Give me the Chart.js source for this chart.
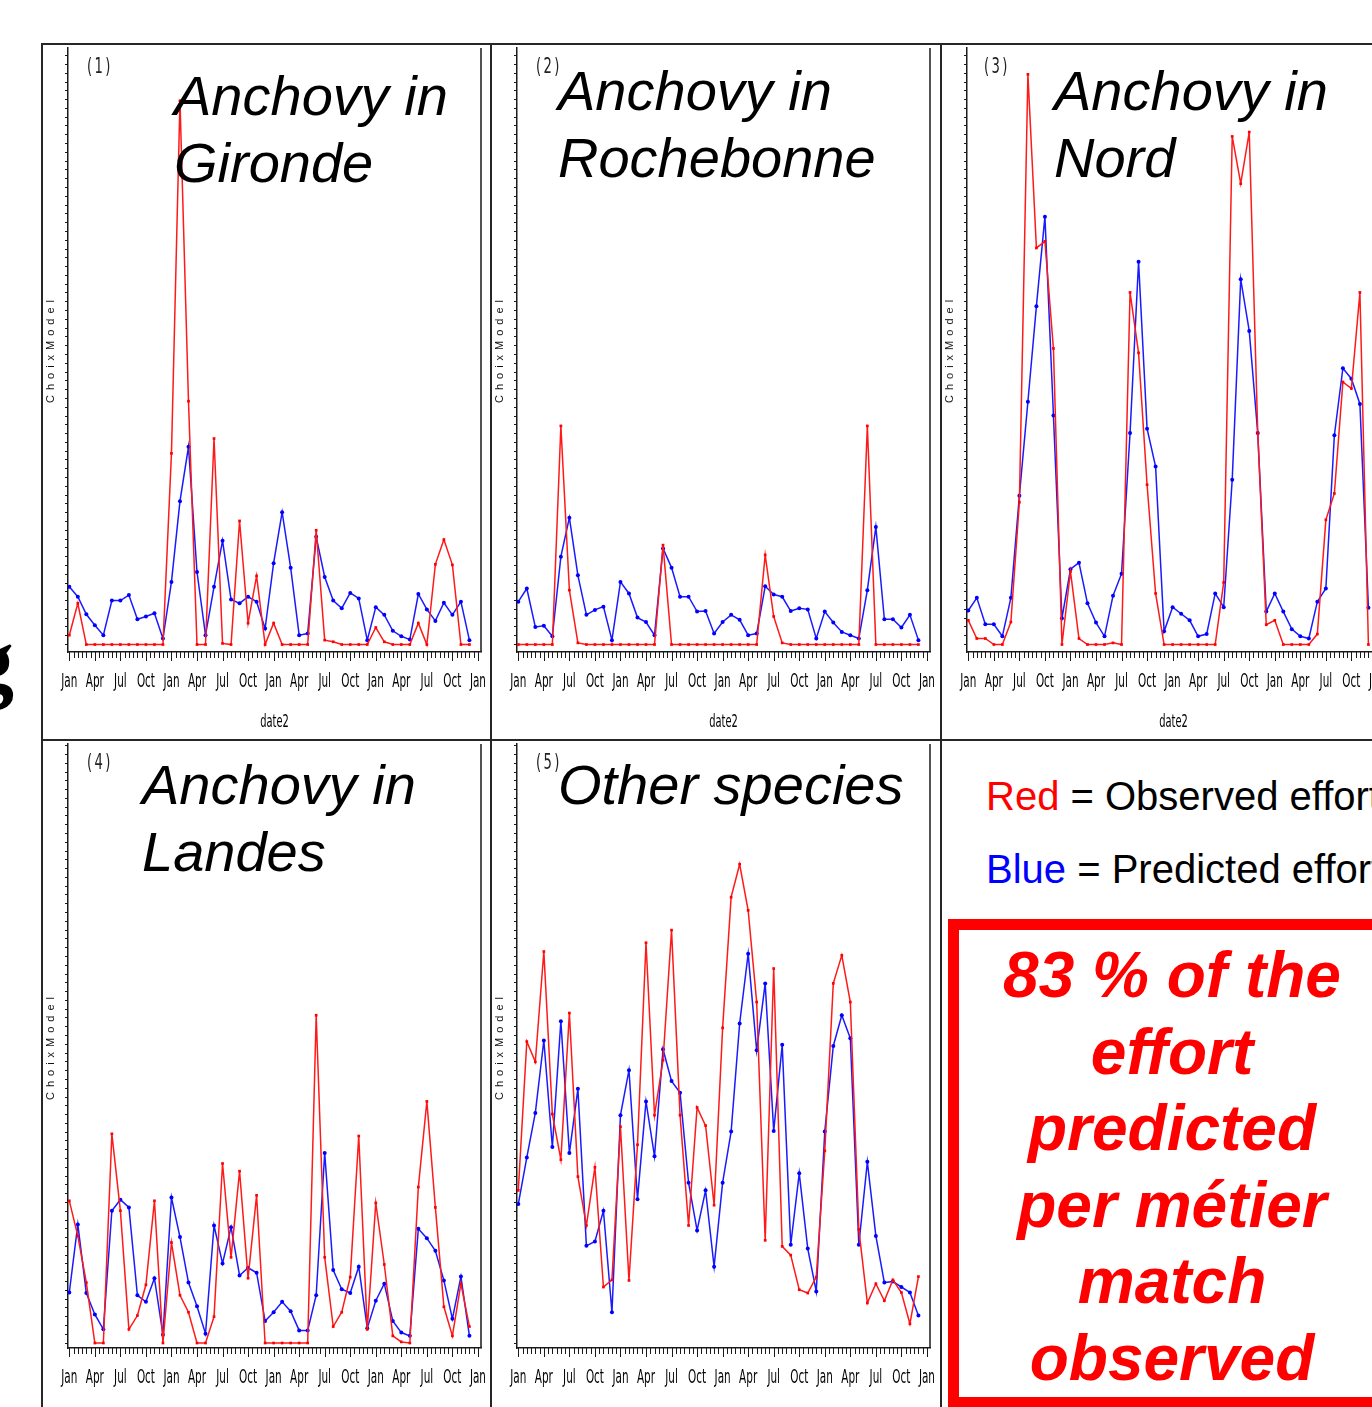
<!doctype html>
<html lang="en">
  <head>
    <meta charset="utf-8">
    <title>Observed vs predicted effort per métier</title>
    <style>
      * { margin: 0; padding: 0; }
      body { width: 1372px; height: 1407px; overflow: hidden; background: #fff; font-family: "Liberation Sans", Arial, sans-serif; }
      .page { position: relative; width: 1372px; height: 1407px; overflow: hidden; background: #fff; }
      .panel { position: absolute; width: 450px; height: 696px; }
      .panel canvas { position: absolute; left: 0; top: 0; }
      .line { position: absolute; background: #262626; }
      .title { position: absolute; font-style: italic; font-size: 56px; line-height: 67px; color: #000; white-space: nowrap; }
      .num { position: absolute; font-family: "DejaVu Sans", sans-serif; font-size: 22px; letter-spacing: 4px; color: #222; transform: scaleX(0.6); transform-origin: left top; }
      .ylab { position: absolute; font-size: 11px; letter-spacing: 5px; color: #111; white-space: nowrap; transform: translate(-50%, -50%) rotate(-90deg); }
      .legend { position: absolute; left: 986px; font-size: 40px; line-height: 46px; color: #000; white-space: nowrap; }
      .box { position: absolute; left: 948px; top: 919px; width: 440px; height: 489px; border: 11px solid #ff0000; box-sizing: border-box; }
      .boxtext { position: absolute; left: 972px; top: 937px; width: 400px; text-align: center; font-weight: bold; font-style: italic; font-size: 64px; line-height: 76.6px; color: #ff0000; }
      .cut { position: absolute; left: -32px; top: 615px; font-family: "Liberation Serif", serif; font-weight: bold; font-size: 92px; line-height: 92px; color: #000; }
    </style>
  </head>
  <body>
    <div class="page">
      <div class="cut">g</div>

      <div class="panel" style="left:42px; top:44px;"><canvas id="p1" width="450" height="696"></canvas></div>
      <div class="panel" style="left:491px; top:44px;"><canvas id="p2" width="450" height="696"></canvas></div>
      <div class="panel" style="left:941px; top:44px;"><canvas id="p3" width="450" height="696"></canvas></div>
      <div class="panel" style="left:42px; top:740px;"><canvas id="p4" width="450" height="696"></canvas></div>
      <div class="panel" style="left:491px; top:740px;"><canvas id="p5" width="450" height="696"></canvas></div>

      <!-- frame -->
      <div class="line" style="left:42px; top:43px; width:1330px; height:2px;"></div>
      <div class="line" style="left:42px; top:739px; width:1330px; height:2px;"></div>
      <div class="line" style="left:41px; top:43px; width:2px; height:1364px;"></div>
      <div class="line" style="left:490px; top:43px; width:2px; height:1364px;"></div>
      <div class="line" style="left:940px; top:43px; width:2px; height:1364px;"></div>

      <!-- panel titles -->
      <div class="num" style="left:87px; top:53px;">(1)</div>
      <div class="num" style="left:536px; top:53px;">(2)</div>
      <div class="num" style="left:984px; top:53px;">(3)</div>
      <div class="num" style="left:87px; top:749px;">(4)</div>
      <div class="num" style="left:536px; top:749px;">(5)</div>

      <div class="title" style="left:174px; top:62px;">Anchovy in<br>Gironde</div>
      <div class="title" style="left:558px; top:57px;">Anchovy in<br>Rochebonne</div>
      <div class="title" style="left:1054px; top:57px;">Anchovy in<br>Nord</div>
      <div class="title" style="left:142px; top:751px;">Anchovy in<br>Landes</div>
      <div class="title" style="left:558px; top:751px;">Other species</div>

      <div class="ylab" style="left:50px; top:349px;">ChoixModel</div>
      <div class="ylab" style="left:499px; top:349px;">ChoixModel</div>
      <div class="ylab" style="left:949px; top:349px;">ChoixModel</div>
      <div class="ylab" style="left:50px; top:1046px;">ChoixModel</div>
      <div class="ylab" style="left:499px; top:1046px;">ChoixModel</div>

      <!-- legend and note -->
      <div class="legend" style="top:773px;"><span style="color:#ff0000;">Red</span> = Observed effort</div>
      <div class="legend" style="top:846px;"><span style="color:#0000ff;">Blue</span> = Predicted effort</div>
      <div class="box"></div>
      <div class="boxtext">83 % of the<br>effort<br>predicted<br>per métier<br>match<br>observed</div>
    </div>

    <script src="https://cdn.jsdelivr.net/npm/chart.js/dist/chart.umd.min.js"></script>
    <script>
    // months Jan (year 1) .. Dec (year 4), one point per month
    const monthIndex = Array.from({length: 48}, (_, i) => i);
    const quarterLabels = ['Jan', 'Apr', 'Jul', 'Oct'];
    const quarterTicks = [0, 3, 6, 9, 12, 15, 18, 21, 24, 27, 30, 33, 36, 39, 42, 45, 48];

    // (1) Anchovy in Gironde
    const girondeObserved = [1.7, 7.5, 0, 0, 0, 0, 0, 0, 0, 0, 0, 0,
      34.8, 99.0, 44.3, 0, 0, 37.5, 0.2, 0, 22.5, 3.9, 12.5, 0,
      3.9, 0, 0, 0, 0, 20.8, 0.8, 0.5, 0, 0, 0, 0,
      3.1, 0.5, 0, 0, 0, 3.9, 0, 14.6, 19.1, 14.5, 0, 0];
    const girondePredicted = [10.5, 8.7, 5.5, 3.5, 1.7, 8.0, 8.0, 9.0, 4.6, 5.1, 5.7, 1.1,
      11.4, 26.1, 36.0, 13.2, 1.7, 10.5, 18.9, 8.2, 7.5, 8.7, 7.8, 2.9,
      14.8, 24.1, 14.0, 1.7, 2.0, 19.6, 12.3, 8.0, 6.6, 9.4, 8.4, 0.8,
      6.8, 5.4, 2.5, 1.5, 0.9, 9.2, 6.4, 4.3, 7.6, 5.4, 7.8, 0.8];

    // (2) Anchovy in Rochebonne
    const rochebonneObserved = [0, 0, 0, 0, 0, 39.8, 9.9, 0.3, 0, 0, 0, 0,
      0, 0, 0, 0, 0, 18.1, 0, 0, 0, 0, 0, 0,
      0, 0, 0, 0, 0, 16.3, 5.1, 0.3, 0, 0, 0, 0,
      0, 0, 0, 0, 0, 39.8, 0, 0, 0, 0, 0, 0];
    const rochebonnePredicted = [7.8, 10.2, 3.2, 3.4, 1.5, 16.0, 23.1, 12.6, 5.4, 6.3, 6.9, 0.8,
      11.4, 9.3, 4.9, 4.1, 1.7, 17.5, 14.0, 8.7, 8.7, 6.0, 6.1, 2.0,
      4.1, 5.4, 4.5, 1.7, 2.0, 10.6, 9.1, 8.7, 6.1, 6.6, 6.4, 1.1,
      6.0, 4.0, 2.3, 1.7, 1.1, 9.9, 21.4, 4.6, 4.6, 3.1, 5.4, 0.8];

    // (3) Anchovy in Nord
    const nordObserved = [4.4, 1.1, 1.1, 0, 0, 4.1, 25.9, 103.8, 72.2, 73.4, 53.9, 0,
      13.3, 1.1, 0, 0, 0, 0.3, 0, 64.1, 53.1, 29.1, 9.3, 0,
      0, 0, 0, 0, 0, 0, 11.3, 92.5, 83.9, 93.3, 38.5, 3.6,
      4.4, 0, 0, 0, 0, 1.9, 22.7, 27.5, 47.8, 46.6, 64.1, 0];
    const nordPredicted = [6.2, 8.5, 3.7, 3.7, 1.5, 8.5, 27.1, 44.2, 61.6, 77.9, 41.7, 4.8,
      13.7, 14.9, 7.5, 4.0, 1.5, 8.9, 12.9, 38.5, 69.7, 39.3, 32.4, 2.4,
      6.8, 5.6, 4.4, 1.5, 1.9, 9.3, 6.8, 30.0, 66.5, 57.1, 38.5, 6.0,
      9.3, 6.0, 2.8, 1.5, 1.1, 7.8, 10.2, 38.1, 50.3, 48.4, 43.8, 6.7];

    // (4) Anchovy in Landes
    const landesObserved = [25.9, 19.5, 11.0, 0, 0, 38.1, 24.1, 2.5, 5.0, 10.6, 25.9, 0,
      18.3, 8.7, 5.6, 0, 0, 4.8, 32.7, 15.6, 31.3, 11.8, 26.9, 0,
      0, 0, 0, 0, 0, 59.7, 15.6, 3.0, 5.6, 12.0, 37.7, 2.5,
      25.5, 14.3, 1.3, 0.2, 0, 28.4, 44.0, 24.7, 6.6, 1.3, 10.8, 3.0];
    const landesPredicted = [9.2, 21.6, 9.1, 5.2, 2.5, 24.1, 26.1, 24.7, 8.7, 7.5, 11.8, 1.5,
      26.5, 19.3, 11.0, 6.7, 1.7, 21.4, 14.5, 21.1, 12.3, 13.7, 12.8, 4.0,
      5.6, 7.5, 5.8, 2.3, 2.3, 8.7, 34.6, 13.3, 9.8, 9.1, 13.9, 2.7,
      7.7, 10.8, 4.0, 1.9, 1.3, 20.8, 19.1, 16.8, 11.4, 4.4, 12.1, 1.3];

    // (5) Other species
    const otherObserved = [27.8, 54.9, 51.2, 71.3, 41.7, 33.4, 60.1, 30.3, 21.4, 32.0, 10.2, 11.5,
      39.4, 11.4, 36.1, 72.9, 41.5, 51.5, 75.2, 41.5, 21.4, 42.9, 39.6, 25.1,
      57.4, 81.2, 87.2, 78.8, 62.1, 18.7, 68.2, 17.6, 16.0, 9.7, 9.1, 12.0,
      35.0, 65.5, 70.6, 62.1, 20.7, 7.3, 10.8, 7.7, 11.5, 9.2, 3.5, 12.1];
    const otherPredicted = [25.3, 33.8, 41.9, 55.1, 35.7, 58.6, 34.6, 46.3, 17.7, 18.5, 24.1, 5.6,
      41.5, 49.7, 26.2, 44.0, 34.0, 53.5, 47.7, 45.6, 29.2, 20.5, 27.8, 13.9,
      29.2, 38.5, 58.2, 70.9, 53.3, 65.5, 38.6, 54.3, 17.9, 30.9, 17.2, 9.4,
      38.5, 54.1, 59.7, 55.5, 17.9, 33.0, 19.5, 11.0, 11.2, 10.2, 9.2, 5.0];

    // squeezed text, like the condensed device font of the original plots
    function narrowText(ctx, text, x, y, size, squeeze) {
      ctx.save();
      ctx.translate(x, y);
      ctx.scale(squeeze, 1);
      ctx.font = size + 'px "DejaVu Sans", sans-serif';
      ctx.textAlign = 'center';
      ctx.textBaseline = 'middle';
      ctx.fillStyle = '#000';
      ctx.fillText(text, 0, 0);
      ctx.restore();
    }

    // date axis: half-month ticks, quarter labels, axis title, right border of the box
    const frameMarks = {
      id: 'frameMarks',
      afterDraw(chart) {
        const {ctx, chartArea, scales: {x}} = chart;
        ctx.save();
        ctx.strokeStyle = '#1a1a1a';
        ctx.lineWidth = 1;
        for (let v = 0; v <= 48; v += 0.5) {
          const px = Math.round(x.getPixelForValue(v)) + 0.5;
          const len = v % 3 === 0 ? 9 : 6;
          ctx.beginPath();
          ctx.moveTo(px, x.top);
          ctx.lineTo(px, x.top + len);
          ctx.stroke();
        }
        quarterTicks.forEach(v => {
          narrowText(ctx, quarterLabels[(v / 3) % 4], x.getPixelForValue(v), x.top + 30, 19, 0.55);
        });
        narrowText(ctx, 'date2', (chartArea.left + chartArea.right) / 2, x.top + 70, 18, 0.55);
        ctx.lineWidth = 1.5;
        ctx.beginPath();
        ctx.moveTo(chartArea.right, chartArea.top);
        ctx.lineTo(chartArea.right, chartArea.bottom);
        ctx.stroke();
        ctx.restore();
      }
    };

    function makePanel(id, observed, predicted, yMin, yMax) {
      const toPoints = arr => arr.map((v, i) => ({x: monthIndex[i], y: v}));
      return new Chart(document.getElementById(id), {
        type: 'line',
        data: {
          datasets: [{
            label: 'Observed',
            data: toPoints(observed),
            borderColor: '#ff1a1a',
            backgroundColor: '#ff0000',
            borderWidth: 1.5,
            pointStyle: 'rect',
            pointRadius: 1.9,
            pointBorderWidth: 0
          }, {
            label: 'Predicted',
            data: toPoints(predicted),
            borderColor: '#1a1aff',
            backgroundColor: '#0000ff',
            borderWidth: 1.5,
            pointStyle: 'circle',
            pointRadius: 2,
            pointBorderWidth: 0
          }]
        },
        options: {
          responsive: false,
          animation: false,
          layout: {padding: {top: 3, right: 11, left: 0, bottom: 0}},
          plugins: {legend: {display: false}, tooltip: {enabled: false}},
          elements: {line: {tension: 0}},
          scales: {
            x: {
              type: 'linear',
              min: -0.153,
              max: 48.36,
              afterBuildTicks: s => { s.ticks = quarterTicks.map(v => ({value: v})); },
              afterFit: s => { s.height = 88; s.paddingLeft = 0; s.paddingRight = 0; },
              grid: {display: false, drawOnChartArea: false, drawTicks: false},
              border: {display: true, color: '#1a1a1a', width: 1.5},
              ticks: {display: false}
            },
            y: {
              min: yMin,
              max: yMax,
              afterBuildTicks: s => {
                const t = [];
                for (let v = 0; v <= yMax; v += 1.6) t.push({value: v});
                s.ticks = t;
              },
              afterFit: s => { s.width = 26; s.paddingTop = 0; s.paddingBottom = 0; },
              grid: {drawOnChartArea: false, drawTicks: true, tickLength: 3, color: '#1a1a1a', tickWidth: 1},
              border: {display: true, color: '#1a1a1a', width: 1.5},
              ticks: {display: false}
            }
          }
        },
        plugins: [frameMarks]
      });
    }

    makePanel('p1', girondeObserved, girondePredicted, -1.36, 108.6);
    makePanel('p2', rochebonneObserved, rochebonnePredicted, -1.36, 108.6);
    makePanel('p3', nordObserved, nordPredicted, -1.36, 108.6);
    makePanel('p4', landesObserved, landesPredicted, -0.91, 109.1);
    makePanel('p5', otherObserved, otherPredicted, -0.91, 109.1);
    </script>
  </body>
</html>
